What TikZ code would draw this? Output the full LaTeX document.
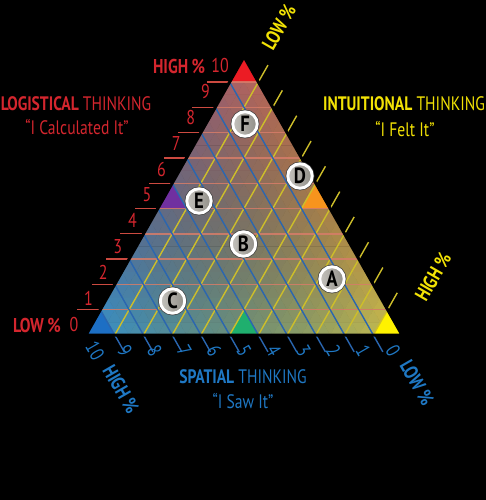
\documentclass[tikz,border=0pt]{standalone}
\usepackage{fontspec}
\setmainfont{PT Sans}
\newfontfamily\cond[FakeStretch=0.8]{PT Sans}
\newfontfamily\condb[FakeStretch=0.85]{PT Sans Bold}
\definecolor{redtxt}{HTML}{D4262E}
\definecolor{yeltxt}{HTML}{F2E205}
\definecolor{bluetxt}{HTML}{1F78C4}
\definecolor{gridred}{HTML}{D77D69}
\definecolor{gridyel}{HTML}{CDBE2A}
\definecolor{gridblue}{HTML}{2A66B0}
\definecolor{tickred}{HTML}{CC4A40}
\definecolor{circfill}{HTML}{ABA8A0}
\tikzset{
  lbl/.style={font=\cond\fontsize{19.5}{21}\selectfont, inner sep=0pt},
  axl/.style={font=\cond\bfseries\fontsize{20}{21}\selectfont, inner sep=0pt},
  digl/.style={font=\cond\fontsize{20}{21}\selectfont, inner sep=0pt},
  markc/.style={circle, draw=white, line width=2.9pt, inner sep=0pt, minimum size=24.5pt,
     left color=circfill!70!white, right color=circfill!85!black, text=black,
     font=\condb\fontsize{22}{22}\selectfont,
     preaction={draw=black!75, line width=4.3pt}},
  hline/.style={gridred, line width=1.4pt, opacity=0.85},
  yline/.style={gridyel, line width=1.4pt},
  bline/.style={gridblue, line width=1.4pt},
}
\begin{document}
\begin{tikzpicture}[x=1pt,y=-1pt]
\fill[black] (0,0) rectangle (486,500);
\useasboundingbox (0,0) rectangle (486,500);
% fine gradient fill
\def\setcol#1#2{%
    \pgfmathsetmacro\wR{#1/22}%
    \pgfmathsetmacro\wT{#2/22}%
    \pgfmathsetmacro\wL{1-\wR-\wT}%
    \pgfmathsetmacro\fD{1-0.6*(\wL*\wR+\wR*\wT+\wT*\wL)}%
    \pgfmathsetmacro\cR{\fD*(\wL*0.20+\wR*0.82+\wT*0.74)}%
    \pgfmathsetmacro\cG{\fD*(\wL*0.58+\wR*0.77+\wT*0.38)}%
    \pgfmathsetmacro\cB{\fD*(\wL*0.82+\wR*0.30+\wT*0.38)}%
    \definecolor{cc}{rgb}{\cR,\cG,\cB}}
\foreach \j in {0,...,21}{
  \pgfmathtruncatemacro\imax{21-\j}
  \foreach \i in {0,...,\imax}{
    \setcol{(\i+1/3)}{(\j+1/3)}
    \filldraw[fill=cc,draw=cc,line width=0.4pt]
      ({86+14.3636*(\i+\j/2)},{335-12.65*\j}) --
      ({86+14.3636*(\i+1+\j/2)},{335-12.65*\j}) --
      ({86+14.3636*(\i+(\j+1)/2)},{335-12.65*(\j+1)}) -- cycle;
    \ifnum\i<\imax
      \setcol{(\i+2/3)}{(\j+2/3)}
      \filldraw[fill=cc,draw=cc,line width=0.4pt]
        ({86+14.3636*(\i+1+\j/2)},{335-12.65*\j}) --
        ({86+14.3636*(\i+(\j+1)/2)},{335-12.65*(\j+1)}) --
        ({86+14.3636*(\i+1+(\j+1)/2)},{335-12.65*(\j+1)}) -- cycle;
    \fi
  }
}
% special triangles (coarse unit)
\def\tri#1#2#3{\fill[#3] ({86+28.727*(#1+#2/2)},{335-25.3*#2}) -- ({86+28.727*(#1+1+#2/2)},{335-25.3*#2}) -- ({86+28.727*(#1+(#2+1)/2)},{335-25.3*(#2+1)}) -- cycle;}
\definecolor{cornred}{HTML}{EC1C24}
\definecolor{cornblue}{HTML}{1D6FC4}
\definecolor{cornyel}{HTML}{FFF200}
\definecolor{corngreen}{HTML}{1FAF6E}
\definecolor{cornpurple}{HTML}{7030A0}
\definecolor{cornorange}{HTML}{F7941D}
\tri{0}{10}{cornred}
\tri{0}{0}{cornblue}
\tri{10}{0}{cornyel}
\tri{5}{0}{corngreen}
\tri{0}{5}{cornpurple}
\tri{5}{5}{cornorange}
% grid lines and ticks
\foreach \k in {1,...,10}{
  \draw[hline] ({86+14.3636*\k},{335-25.3*\k}) -- ({402-14.3636*\k},{335-25.3*\k});
  \draw[tickred, line width=1.3pt] ({86+14.3636*\k-1},{335-25.3*\k}) -- ({86+14.3636*\k-23},{335-25.3*\k});
  \draw[yline] ({86+28.727*\k},335) -- ({402-14.3636*(11-\k)},{335-25.3*(11-\k)}) -- ++(9.6,-16.9);
  \draw[bline] ({86+14.3636*\k},{335-25.3*\k}) -- ({86+28.727*\k},335) -- ++(9.6,16.9);
}
% border
\draw[black, line width=3pt, line join=miter] (86,335) -- (402,335) -- (244,56.7) -- cycle;
% left axis labels
\foreach \k in {0,...,10}{
  \node[digl, text=redtxt] at ({74+14.6*\k},{324-25.8*\k}) {\k};
}
\node[axl, text=redtxt] at (179,67) {HIGH\,\%};
\node[axl, text=redtxt] at (37,325) {LOW\,\%};
% bottom axis labels
\foreach \k in {0,...,10}{
  \pgfmathtruncatemacro\d{10-\k}
  \node[digl, text=bluetxt, rotate=-60] at ({95+29.8*\k},351) {\d};
}
\node[axl, text=bluetxt, rotate=-60] at (121,389) {HIGH\,\%};
\node[axl, text=bluetxt, rotate=-60] at (417,383) {LOW\,\%};
% right axis labels
\node[axl, text=yeltxt, rotate=60] at (279,27) {LOW\,\%};
\node[axl, text=yeltxt, rotate=60] at (433,277) {HIGH\,\%};
% titles
\node[lbl, text=redtxt] (logt) at (76,104) {{\bfseries LOGISTICAL} THINKING};
\node[lbl, text=redtxt] (logq) at (77,127) {“I Calculated It”};
\node[lbl, text=yeltxt] (intt) at (404,104) {{\bfseries INTUITIONAL} THINKING};
\node[lbl, text=yeltxt] (intq) at (405,129) {“I Felt It”};
\node[lbl, text=bluetxt] (spat) at (243,377) {{\bfseries SPATIAL} THINKING};
\node[lbl, text=bluetxt] (spaq) at (243,401) {“I Saw It”};
% markers
\node[markc] (F) at (245,124) {F};
\node[markc] (E) at (199,201) {E};
\node[markc] (D) at (300,176) {D};
\node[markc] (B) at (243.5,244) {B};
\node[markc] (A) at (332,279) {A};
\node[markc] (C) at (172.5,301) {C};
\end{tikzpicture}
\end{document}
